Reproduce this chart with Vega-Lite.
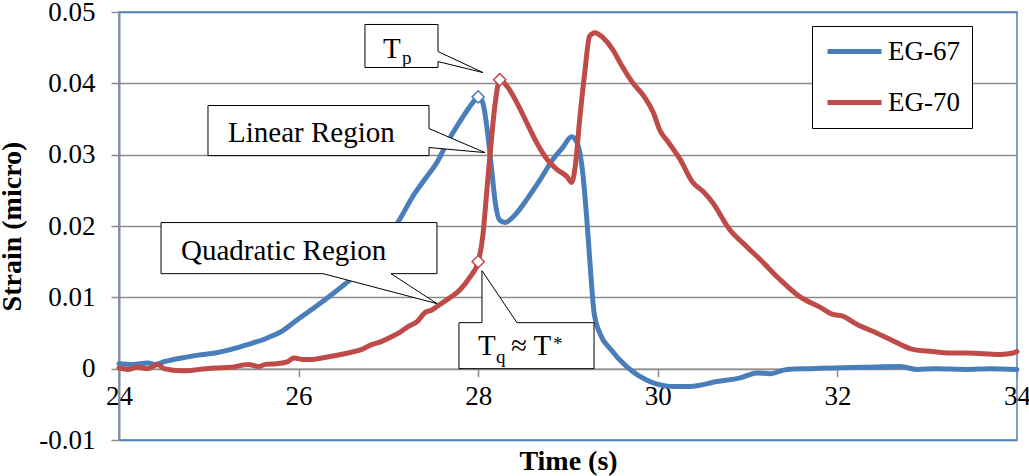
{
  "$schema": "https://vega.github.io/schema/vega-lite/v6.json",
  "width": 898,
  "height": 428,
  "autosize": {"type": "none"},
  "padding": {"left": 119, "top": 12, "right": 12, "bottom": 36},
  "config": {
    "view": {"stroke": "#4F81BD", "strokeWidth": 1.5},
    "font": "Liberation Serif",
    "axis": {"labelFont": "Liberation Serif", "titleFont": "Liberation Serif"},
    "legend": {"labelFont": "Liberation Serif"},
    "text": {"font": "Liberation Serif", "color": "black"}
  },
  "datasets": {
    "series": [
      {"series": "EG-67", "t": 24.00, "v": 0.0007},
      {"series": "EG-67", "t": 24.15, "v": 0.0006},
      {"series": "EG-67", "t": 24.32, "v": 0.0008},
      {"series": "EG-67", "t": 24.40, "v": 0.0006},
      {"series": "EG-67", "t": 24.51, "v": 0.0010},
      {"series": "EG-67", "t": 24.70, "v": 0.0015},
      {"series": "EG-67", "t": 24.88, "v": 0.0019},
      {"series": "EG-67", "t": 25.07, "v": 0.0022},
      {"series": "EG-67", "t": 25.25, "v": 0.0027},
      {"series": "EG-67", "t": 25.44, "v": 0.0034},
      {"series": "EG-67", "t": 25.63, "v": 0.0042},
      {"series": "EG-67", "t": 25.82, "v": 0.0053},
      {"series": "EG-67", "t": 25.99, "v": 0.0069},
      {"series": "EG-67", "t": 26.18, "v": 0.0086},
      {"series": "EG-67", "t": 26.37, "v": 0.0104},
      {"series": "EG-67", "t": 26.55, "v": 0.0122},
      {"series": "EG-67", "t": 26.74, "v": 0.0143},
      {"series": "EG-67", "t": 26.93, "v": 0.0171},
      {"series": "EG-67", "t": 27.11, "v": 0.0206},
      {"series": "EG-67", "t": 27.30, "v": 0.0247},
      {"series": "EG-67", "t": 27.42, "v": 0.0268},
      {"series": "EG-67", "t": 27.54, "v": 0.0289},
      {"series": "EG-67", "t": 27.63, "v": 0.0311},
      {"series": "EG-67", "t": 27.72, "v": 0.0331},
      {"series": "EG-67", "t": 27.83, "v": 0.0353},
      {"series": "EG-67", "t": 27.94, "v": 0.0373},
      {"series": "EG-67", "t": 28.00, "v": 0.0381},
      {"series": "EG-67", "t": 28.05, "v": 0.0373},
      {"series": "EG-67", "t": 28.11, "v": 0.0325},
      {"series": "EG-67", "t": 28.15, "v": 0.0279},
      {"series": "EG-67", "t": 28.19, "v": 0.0233},
      {"series": "EG-67", "t": 28.24, "v": 0.0208},
      {"series": "EG-67", "t": 28.30, "v": 0.0205},
      {"series": "EG-67", "t": 28.39, "v": 0.0213},
      {"series": "EG-67", "t": 28.54, "v": 0.0237},
      {"series": "EG-67", "t": 28.69, "v": 0.0265},
      {"series": "EG-67", "t": 28.83, "v": 0.0293},
      {"series": "EG-67", "t": 28.94, "v": 0.0310},
      {"series": "EG-67", "t": 29.04, "v": 0.0325},
      {"series": "EG-67", "t": 29.10, "v": 0.0317},
      {"series": "EG-67", "t": 29.16, "v": 0.0279},
      {"series": "EG-67", "t": 29.21, "v": 0.0209},
      {"series": "EG-67", "t": 29.25, "v": 0.0139},
      {"series": "EG-67", "t": 29.29, "v": 0.0079},
      {"series": "EG-67", "t": 29.36, "v": 0.0048},
      {"series": "EG-67", "t": 29.47, "v": 0.0028},
      {"series": "EG-67", "t": 29.66, "v": 0.0002},
      {"series": "EG-67", "t": 29.91, "v": -0.0018},
      {"series": "EG-67", "t": 30.17, "v": -0.0025},
      {"series": "EG-67", "t": 30.36, "v": -0.0025},
      {"series": "EG-67", "t": 30.66, "v": -0.0018},
      {"series": "EG-67", "t": 30.92, "v": -0.0013},
      {"series": "EG-67", "t": 31.10, "v": -0.0006},
      {"series": "EG-67", "t": 31.25, "v": -0.0007},
      {"series": "EG-67", "t": 31.44, "v": -0.0001},
      {"series": "EG-67", "t": 31.70, "v": 0.0000},
      {"series": "EG-67", "t": 31.95, "v": 0.0001},
      {"series": "EG-67", "t": 32.30, "v": 0.0002},
      {"series": "EG-67", "t": 32.70, "v": 0.0003},
      {"series": "EG-67", "t": 32.89, "v": -0.0001},
      {"series": "EG-67", "t": 33.10, "v": 0.0000},
      {"series": "EG-67", "t": 33.44, "v": -0.0001},
      {"series": "EG-67", "t": 33.70, "v": 0.0000},
      {"series": "EG-67", "t": 34.00, "v": -0.0001},
      {"series": "EG-70", "t": 24.00, "v": 0.0001},
      {"series": "EG-70", "t": 24.10, "v": -0.0001},
      {"series": "EG-70", "t": 24.20, "v": 0.0002},
      {"series": "EG-70", "t": 24.32, "v": 0.0000},
      {"series": "EG-70", "t": 24.43, "v": 0.0006},
      {"series": "EG-70", "t": 24.50, "v": 0.0000},
      {"series": "EG-70", "t": 24.70, "v": -0.0003},
      {"series": "EG-70", "t": 24.90, "v": -0.0001},
      {"series": "EG-70", "t": 25.07, "v": 0.0001},
      {"series": "EG-70", "t": 25.25, "v": 0.0002},
      {"series": "EG-70", "t": 25.44, "v": 0.0006},
      {"series": "EG-70", "t": 25.55, "v": 0.0003},
      {"series": "EG-70", "t": 25.63, "v": 0.0006},
      {"series": "EG-70", "t": 25.75, "v": 0.0007},
      {"series": "EG-70", "t": 25.88, "v": 0.0010},
      {"series": "EG-70", "t": 25.95, "v": 0.0015},
      {"series": "EG-70", "t": 26.04, "v": 0.0013},
      {"series": "EG-70", "t": 26.15, "v": 0.0013},
      {"series": "EG-70", "t": 26.26, "v": 0.0015},
      {"series": "EG-70", "t": 26.40, "v": 0.0018},
      {"series": "EG-70", "t": 26.55, "v": 0.0022},
      {"series": "EG-70", "t": 26.68, "v": 0.0026},
      {"series": "EG-70", "t": 26.82, "v": 0.0034},
      {"series": "EG-70", "t": 26.92, "v": 0.0038},
      {"series": "EG-70", "t": 27.04, "v": 0.0045},
      {"series": "EG-70", "t": 27.14, "v": 0.0052},
      {"series": "EG-70", "t": 27.22, "v": 0.0059},
      {"series": "EG-70", "t": 27.32, "v": 0.0066},
      {"series": "EG-70", "t": 27.41, "v": 0.0079},
      {"series": "EG-70", "t": 27.48, "v": 0.0082},
      {"series": "EG-70", "t": 27.55, "v": 0.0088},
      {"series": "EG-70", "t": 27.68, "v": 0.0099},
      {"series": "EG-70", "t": 27.80, "v": 0.0111},
      {"series": "EG-70", "t": 27.90, "v": 0.0127},
      {"series": "EG-70", "t": 28.00, "v": 0.0150},
      {"series": "EG-70", "t": 28.05, "v": 0.0185},
      {"series": "EG-70", "t": 28.10, "v": 0.0255},
      {"series": "EG-70", "t": 28.15, "v": 0.0325},
      {"series": "EG-70", "t": 28.19, "v": 0.0373},
      {"series": "EG-70", "t": 28.24, "v": 0.0405},
      {"series": "EG-70", "t": 28.32, "v": 0.0396},
      {"series": "EG-70", "t": 28.43, "v": 0.0373},
      {"series": "EG-70", "t": 28.54, "v": 0.0345},
      {"series": "EG-70", "t": 28.65, "v": 0.0317},
      {"series": "EG-70", "t": 28.77, "v": 0.0293},
      {"series": "EG-70", "t": 28.88, "v": 0.0279},
      {"series": "EG-70", "t": 28.99, "v": 0.0269},
      {"series": "EG-70", "t": 29.04, "v": 0.0261},
      {"series": "EG-70", "t": 29.08, "v": 0.0283},
      {"series": "EG-70", "t": 29.13, "v": 0.0349},
      {"series": "EG-70", "t": 29.19, "v": 0.0419},
      {"series": "EG-70", "t": 29.24, "v": 0.0466},
      {"series": "EG-70", "t": 29.30, "v": 0.0471},
      {"series": "EG-70", "t": 29.39, "v": 0.0464},
      {"series": "EG-70", "t": 29.50, "v": 0.0447},
      {"series": "EG-70", "t": 29.58, "v": 0.0429},
      {"series": "EG-70", "t": 29.72, "v": 0.0401},
      {"series": "EG-70", "t": 29.85, "v": 0.0381},
      {"series": "EG-70", "t": 29.95, "v": 0.0359},
      {"series": "EG-70", "t": 30.02, "v": 0.0335},
      {"series": "EG-70", "t": 30.12, "v": 0.0317},
      {"series": "EG-70", "t": 30.25, "v": 0.0293},
      {"series": "EG-70", "t": 30.39, "v": 0.0261},
      {"series": "EG-70", "t": 30.50, "v": 0.0249},
      {"series": "EG-70", "t": 30.61, "v": 0.0233},
      {"series": "EG-70", "t": 30.80, "v": 0.0195},
      {"series": "EG-70", "t": 30.99, "v": 0.0171},
      {"series": "EG-70", "t": 31.14, "v": 0.0153},
      {"series": "EG-70", "t": 31.36, "v": 0.0125},
      {"series": "EG-70", "t": 31.58, "v": 0.0101},
      {"series": "EG-70", "t": 31.81, "v": 0.0086},
      {"series": "EG-70", "t": 31.95, "v": 0.0076},
      {"series": "EG-70", "t": 32.05, "v": 0.0074},
      {"series": "EG-70", "t": 32.22, "v": 0.0062},
      {"series": "EG-70", "t": 32.40, "v": 0.0052},
      {"series": "EG-70", "t": 32.59, "v": 0.0041},
      {"series": "EG-70", "t": 32.84, "v": 0.0027},
      {"series": "EG-70", "t": 33.06, "v": 0.0024},
      {"series": "EG-70", "t": 33.25, "v": 0.0022},
      {"series": "EG-70", "t": 33.44, "v": 0.0022},
      {"series": "EG-70", "t": 33.81, "v": 0.0020},
      {"series": "EG-70", "t": 33.96, "v": 0.0022},
      {"series": "EG-70", "t": 34.00, "v": 0.0024}
    ],
    "markers": [
      {"series": "EG-67", "t": 28.00, "v": 0.0381},
      {"series": "EG-70", "t": 28.24, "v": 0.0405},
      {"series": "EG-70", "t": 28.00, "v": 0.0150}
    ],
    "callouts": [
      {"callout": "Tp", "i": 0, "t": 26.739, "v": 0.04825},
      {"callout": "Tp", "i": 1, "t": 27.552, "v": 0.04825},
      {"callout": "Tp", "i": 2, "t": 27.552, "v": 0.04446},
      {"callout": "Tp", "i": 3, "t": 28.053, "v": 0.04151},
      {"callout": "Tp", "i": 4, "t": 27.552, "v": 0.04305},
      {"callout": "Tp", "i": 5, "t": 27.552, "v": 0.04222},
      {"callout": "Tp", "i": 6, "t": 26.739, "v": 0.04222},
      {"callout": "Tp", "i": 7, "t": 26.739, "v": 0.04825},
      {"callout": "Linear", "i": 0, "t": 24.991, "v": 0.03689},
      {"callout": "Linear", "i": 1, "t": 27.452, "v": 0.03689},
      {"callout": "Linear", "i": 2, "t": 27.452, "v": 0.03366},
      {"callout": "Linear", "i": 3, "t": 28.076, "v": 0.03029},
      {"callout": "Linear", "i": 4, "t": 27.452, "v": 0.03100},
      {"callout": "Linear", "i": 5, "t": 27.452, "v": 0.02987},
      {"callout": "Linear", "i": 6, "t": 24.991, "v": 0.02987},
      {"callout": "Linear", "i": 7, "t": 24.991, "v": 0.03689},
      {"callout": "Quadratic", "i": 0, "t": 24.468, "v": 0.02048},
      {"callout": "Quadratic", "i": 1, "t": 27.541, "v": 0.02048},
      {"callout": "Quadratic", "i": 2, "t": 27.541, "v": 0.01332},
      {"callout": "Quadratic", "i": 3, "t": 27.029, "v": 0.01332},
      {"callout": "Quadratic", "i": 4, "t": 27.541, "v": 0.00912},
      {"callout": "Quadratic", "i": 5, "t": 26.272, "v": 0.01332},
      {"callout": "Quadratic", "i": 6, "t": 24.468, "v": 0.01332},
      {"callout": "Quadratic", "i": 7, "t": 24.468, "v": 0.02048},
      {"callout": "Tq", "i": 0, "t": 27.786, "v": 0.00645},
      {"callout": "Tq", "i": 1, "t": 28.042, "v": 0.00645},
      {"callout": "Tq", "i": 2, "t": 28.042, "v": 0.01374},
      {"callout": "Tq", "i": 3, "t": 28.432, "v": 0.00645},
      {"callout": "Tq", "i": 4, "t": 29.290, "v": 0.00645},
      {"callout": "Tq", "i": 5, "t": 29.290, "v": 0.0},
      {"callout": "Tq", "i": 6, "t": 27.786, "v": 0.0},
      {"callout": "Tq", "i": 7, "t": 27.786, "v": 0.00645}
    ],
    "notes": [
      {"t": 26.940, "v": 0.04362, "label": "T"},
      {"t": 25.214, "v": 0.03184, "label": "Linear Region"},
      {"t": 24.690, "v": 0.01529, "label": "Quadratic Region"},
      {"t": 27.998, "v": 0.00196, "label": "T"},
      {"t": 28.365, "v": 0.00196, "label": "≈ T"}
    ],
    "scripts": [
      {"t": 27.151, "v": 0.04278, "label": "p"},
      {"t": 28.198, "v": 0.00084, "label": "q"},
      {"t": 28.833, "v": 0.00266, "label": "*"}
    ]
  },
  "layer": [
    {
      "data": {"name": "series"},
      "mark": {"type": "line", "strokeWidth": 5, "strokeJoin": "round", "strokeCap": "round", "interpolate": "monotone"},
      "encoding": {
        "x": {
          "field": "t", "type": "quantitative",
          "scale": {"domain": [24, 34], "nice": false, "zero": false},
          "axis": {
            "values": [24, 26, 28, 30, 32, 34],
            "format": "d",
            "offset": -71.33,
            "grid": false,
            "domainColor": "#8C8C8C", "domainWidth": 1.5,
            "tickColor": "#8C8C8C", "tickWidth": 1.5, "tickSize": 8,
            "labelFont": "Liberation Serif", "labelFontSize": 27, "labelColor": "black", "labelPadding": 7,
            "labelFlush": false,
            "title": "Time (s)",
            "titleFont": "Liberation Serif", "titleFontSize": 28, "titleFontWeight": "bold", "titleColor": "black",
            "titleBaseline": "middle", "titleY": 93
          }
        },
        "y": {
          "field": "v", "type": "quantitative",
          "scale": {"domain": [-0.01, 0.05], "nice": false, "zero": false},
          "axis": {
            "values": [-0.01, 0, 0.01, 0.02, 0.03, 0.04, 0.05],
            "labelExpr": "datum.value == 0 ? '0' : toString(round(datum.value * 100) / 100)",
            "grid": true,
            "gridColor": {"condition": {"test": "datum.value > 0.045 || datum.value < -0.005", "value": "#4F81BD"}, "value": "#8C8C8C"},
            "gridWidth": 1.5,
            "domainColor": "#8C8C8C", "domainWidth": 2,
            "tickColor": "#8C8C8C", "tickWidth": 1.5, "tickSize": 8,
            "labelFont": "Liberation Serif", "labelFontSize": 27, "labelColor": "black", "labelPadding": 16,
            "labelFlush": false,
            "title": "Strain (micro)",
            "titleFont": "Liberation Serif", "titleFontSize": 28, "titleFontWeight": "bold", "titleColor": "black",
            "titleX": -93
          }
        },
        "color": {
          "field": "series", "type": "nominal",
          "scale": {"domain": ["EG-67", "EG-70"], "range": ["#4A7EBB", "#BE4B48"]},
          "legend": {
            "orient": "none", "legendX": 693, "legendY": 14,
            "title": null,
            "strokeColor": "black", "fillColor": "white",
            "padding": 12,
            "symbolType": "M-1,0L4.4,0",
            "symbolSize": 400,
            "symbolStrokeWidth": 5,
            "labelFont": "Liberation Serif", "labelFontSize": 27, "labelColor": "black",
            "labelOffset": 37,
            "rowPadding": 23
          }
        }
      }
    },
    {
      "data": {"name": "markers"},
      "mark": {"type": "point", "shape": "diamond", "fill": "white", "fillOpacity": 1, "strokeWidth": 1.5, "size": 150, "opacity": 1},
      "encoding": {
        "x": {"field": "t", "type": "quantitative"},
        "y": {"field": "v", "type": "quantitative"},
        "color": {"field": "series", "type": "nominal"}
      }
    },
    {
      "data": {"name": "callouts"},
      "mark": {"type": "line", "fill": "white", "stroke": "black", "strokeWidth": 1, "interpolate": "linear"},
      "encoding": {
        "x": {"field": "t", "type": "quantitative"},
        "y": {"field": "v", "type": "quantitative"},
        "detail": {"field": "callout", "type": "nominal"},
        "order": {"field": "i", "type": "quantitative"}
      }
    },
    {
      "data": {"name": "notes"},
      "mark": {"type": "text", "align": "left", "baseline": "alphabetic", "fontSize": 29, "font": "Liberation Serif", "color": "black"},
      "encoding": {
        "x": {"field": "t", "type": "quantitative"},
        "y": {"field": "v", "type": "quantitative"},
        "text": {"field": "label"}
      }
    },
    {
      "data": {"name": "scripts"},
      "mark": {"type": "text", "align": "left", "baseline": "alphabetic", "fontSize": 19, "font": "Liberation Serif", "color": "black"},
      "encoding": {
        "x": {"field": "t", "type": "quantitative"},
        "y": {"field": "v", "type": "quantitative"},
        "text": {"field": "label"}
      }
    }
  ]
}
